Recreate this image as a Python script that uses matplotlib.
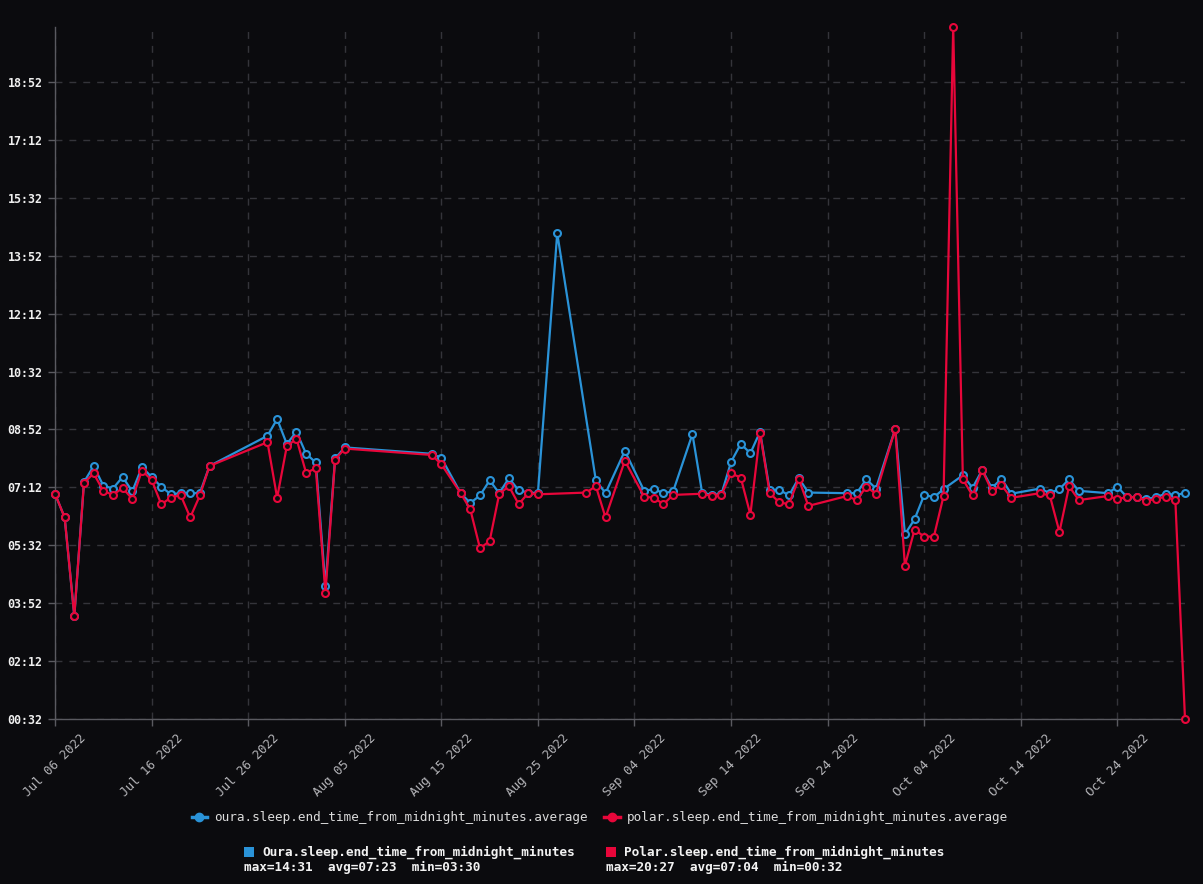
import matplotlib
matplotlib.use("Agg")
import matplotlib.pyplot as plt
from matplotlib.lines import Line2D
from matplotlib.patches import Rectangle
import pandas as pd

# ---------------- data (minutes after midnight, day offsets from start) ----------------
start_date = "2022-07-06"

oura_days = [0, 1, 2, 3, 4, 5, 6, 7, 8, 9, 10, 11, 12, 13, 14, 15, 16,
             22, 23, 24, 25, 26, 27, 28, 29, 30,
             39, 40, 42, 43, 44, 45, 46, 47, 48, 49, 50, 52,
             56, 57, 59, 61, 62, 63, 64, 66, 67, 68, 69, 70, 71, 72, 73, 74, 75, 76, 77, 78,
             82, 83, 84, 85, 87, 88, 89, 90, 91, 92, 94, 95, 96, 97, 98, 99,
             102, 103, 104, 105, 106, 109, 110, 111, 112, 113, 114, 115, 116, 117]
oura_minutes = [421, 380, 210, 441, 469, 435, 430, 450, 425, 467, 450, 433, 420, 422, 422, 422, 469,
                521, 550, 507, 528, 490, 475, 262, 482, 501,
                490, 483, 422, 405, 418, 444, 422, 448, 427, 423, 422, 871,
                444, 422, 495, 426, 429, 422, 425, 524, 423, 419, 420, 476, 507, 491, 528, 427, 428, 418, 448, 423,
                422, 422, 446, 430, 533, 351, 377, 419, 415, 429, 453, 431, 462, 431, 447, 421,
                430, 422, 429, 446, 426, 422, 433, 415, 415, 412, 415, 421, 419, 422]

polar_days = [0, 1, 2, 3, 4, 5, 6, 7, 8, 9, 10, 11, 12, 13, 14, 15, 16,
              22, 23, 24, 25, 26, 27, 28, 29, 30,
              39, 40, 42, 43, 44, 45, 46, 47, 48, 49, 50,
              55, 56, 57, 59, 61, 62, 63, 64, 67, 68, 69, 70, 71, 72, 73, 74, 75, 76, 77, 78,
              82, 83, 84, 85, 87, 88, 89, 90, 91, 92, 93, 94, 95, 96, 97, 98, 99,
              102, 103, 104, 105, 106, 109, 110, 111, 112, 113, 114, 115, 116, 117]
polar_minutes = [421, 380, 210, 440, 456, 426, 419, 431, 412, 461, 445, 403, 414, 419, 380, 418, 469,
                 510, 414, 503, 516, 457, 465, 250, 480, 499,
                 488, 472, 422, 394, 327, 339, 421, 434, 403, 422, 420,
                 423, 434, 380, 478, 416, 414, 403, 419, 421, 417, 419, 456, 449, 385, 526, 422, 406, 403, 447, 400,
                 417, 410, 433, 421, 533, 297, 359, 347, 347, 417, 1227, 446, 418, 462, 426, 436, 414,
                 422, 418, 355, 434, 410, 417, 412, 415, 415, 409, 412, 416, 410, 32]

y_ticks = list(range(32, 1228, 100))
series_names = ["oura.sleep.end_time_from_midnight_minutes.average",
                "polar.sleep.end_time_from_midnight_minutes.average"]
summary_names = ["Oura.sleep.end_time_from_midnight_minutes",
                 "Polar.sleep.end_time_from_midnight_minutes"]
summary_stats = ["max=14:31  avg=07:23  min=03:30",
                 "max=20:27  avg=07:04  min=00:32"]

# ---------------- style ----------------
BG = "#0b0b0e"
BLUE = "#2a93d8"
RED = "#e8063a"
GRID = "#34343a"
SPINE = "#5a5a60"
MONO = "DejaVu Sans Mono"

W, H = 1203, 884
fig = plt.figure(figsize=(W / 100, H / 100), dpi=100, facecolor=BG)
ax = fig.add_axes([55 / W, (H - 719) / H, (1185 - 55) / W, (719 - 27) / H], facecolor=BG)

t0 = pd.Timestamp(start_date)
oura_dates = [t0 + pd.Timedelta(days=d) for d in oura_days]
polar_dates = [t0 + pd.Timedelta(days=d) for d in polar_days]

mk = dict(marker="o", markersize=5, markeredgewidth=1.5, markerfacecolor=BG)
ax.plot(oura_dates, oura_minutes, color=BLUE, lw=1.6, markeredgecolor=BLUE, clip_on=False, zorder=3, **mk)
ax.plot(polar_dates, polar_minutes, color=RED, lw=1.6, markeredgecolor=RED, clip_on=False, zorder=4, **mk)

ax.set_ylim(y_ticks[0], 1227)
ax.set_xlim(t0, t0 + pd.Timedelta(days=117))

ax.tick_params(axis="both", color=SPINE, length=5, width=1)
ax.tick_params(axis="x", pad=4, labelcolor="#b4b4b8")
ax.tick_params(axis="y", pad=4, labelcolor="#f0f0f0")

ax.set_yticks(y_ticks)
ax.set_yticklabels([f"{m // 60:02d}:{m % 60:02d}" for m in y_ticks])
xt = [t0 + pd.Timedelta(days=10 * i) for i in range(12)]
ax.set_xticks(xt)
ax.set_xticklabels([d.strftime("%b %d %Y") for d in xt])

for lab in ax.get_yticklabels():
    lab.set_fontfamily(MONO)
    lab.set_fontsize(8.4)
    lab.set_fontweight("bold")
    lab.set_color("#f0f0f0")
for lab in ax.get_xticklabels():
    lab.set_fontfamily(MONO)
    lab.set_fontsize(9)
    lab.set_color("#b4b4b8")
    lab.set_rotation(45)
    lab.set_ha("center")

for s in ["top", "right"]:
    ax.spines[s].set_visible(False)
for s in ["left", "bottom"]:
    ax.spines[s].set_color(SPINE)
    ax.spines[s].set_linewidth(1)

ax.grid(True, color=GRID, linestyle=(0, (5, 5)), linewidth=1)
ax.set_axisbelow(True)

# ---------------- legend 1 ----------------
handles = [Line2D([0], [0], color=BLUE, lw=2.5, marker="o", markersize=6, markerfacecolor=BLUE, markeredgecolor=BLUE),
           Line2D([0], [0], color=RED, lw=2.5, marker="o", markersize=6, markerfacecolor=RED, markeredgecolor=RED)]
leg = fig.legend(handles, series_names, loc="center", bbox_to_anchor=(600 / W, 1 - 818 / H), ncol=2,
                 frameon=False, handlelength=1.2, handletextpad=0.6, columnspacing=1.3,
                 prop={"family": MONO, "size": 9.1})
for t in leg.get_texts():
    t.set_color("#dcdcdc")

# ---------------- legend 2 (summary) ----------------
for x0, col, name, stats in [(244, BLUE, summary_names[0], summary_stats[0]),
                             (606, RED, summary_names[1], summary_stats[1])]:
    fig.patches.append(Rectangle((x0 / W, 1 - 857 / H), 10 / W, 10 / H, transform=fig.transFigure,
                                 facecolor=col, edgecolor="none"))
    fig.text((x0 + 18) / W, 1 - 852 / H, name, family=MONO, size=9.2, weight="bold",
             color="#f2f2f2", va="center", ha="left")
    fig.text(x0 / W, 1 - 867 / H, stats, family=MONO, size=9.2, weight="bold",
             color="#f2f2f2", va="center", ha="left")

fig.savefig("out.png", dpi=100, facecolor=BG)
